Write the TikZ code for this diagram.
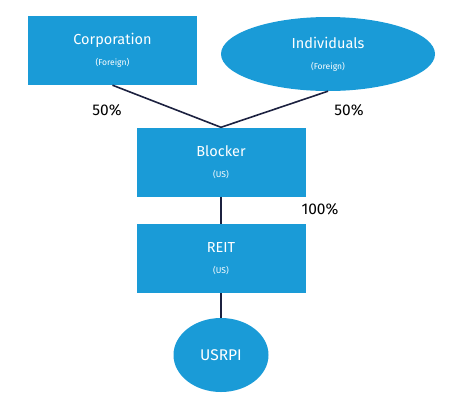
\documentclass[tikz,border=0pt]{standalone}
\usepackage{fontspec}
\setmainfont{Fira Sans}
\usepackage{xcolor}
\usetikzlibrary{shapes.geometric}
\definecolor{EntityBlue}{HTML}{1A9BD7}
\definecolor{LinkNavy}{HTML}{1C2140}

\begin{document}
\begin{tikzpicture}[x=1pt,y=-1pt,
 entity/.style={fill=EntityBlue,text=white,align=center,inner sep=0pt,
  font=\fontsize{14.5}{16}\selectfont},
 box/.style={entity,rectangle,minimum width=169pt,minimum height=69pt},
 oval/.style={entity,ellipse},
 link/.style={draw=LinkNavy,line width=1.6pt},
 share/.style={font=\fontsize{15.5}{18}\selectfont}]
\useasboundingbox (0,0) rectangle (460,400);

\node[box] (corp) at (112.5,50.5) {Corporation\\[5pt]{\fontsize{8.5}{10}\selectfont (Foreign)}};
\node[oval,minimum width=214pt,minimum height=74pt] (indiv) at (328,54)
 {Individuals\\[5pt]{\fontsize{8.5}{10}\selectfont (Foreign)}};
\node[box] (blocker) at (221,162) {Blocker\\[5pt]{\fontsize{8.5}{10}\selectfont (US)}};
\node[box] (reit) at (221,258.5) {REIT\\[5pt]{\fontsize{8.5}{10}\selectfont (US)}};
\node[oval,minimum width=95pt,minimum height=74pt,
 font=\fontsize{15.5}{18}\selectfont] (usrpi) at (221,355) {USRPI};

\draw[link] (corp.south) -- (blocker.north) -- (indiv.south);
\draw[link] (blocker) -- (reit);
\draw[link] (reit) -- (usrpi);

\node[share] (pcorp) at (107,110) {50\%};
\node[share] (pindiv) at (349,110) {50\%};
\node[share] (pblocker) at (320,209) {100\%};
\end{tikzpicture}
\end{document}
